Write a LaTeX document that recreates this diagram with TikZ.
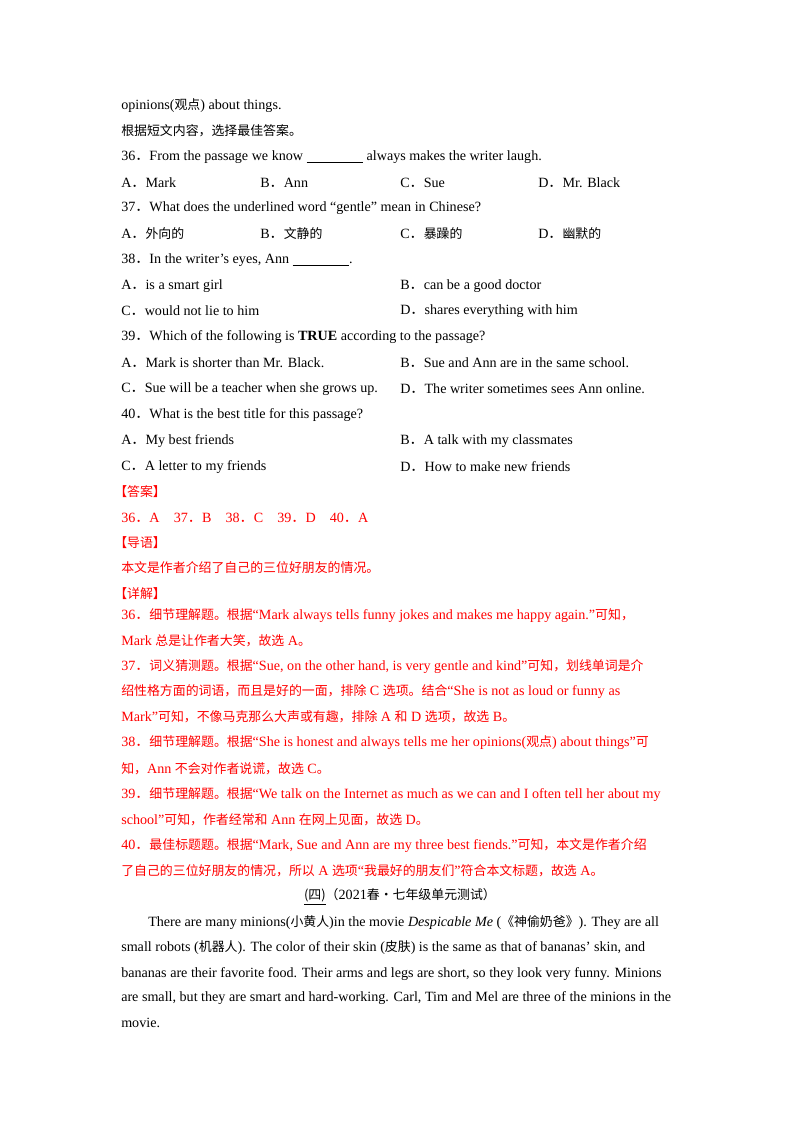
\documentclass[tikz,border=0pt]{standalone}
\usepackage{fontspec}
\setmainfont{Liberation Serif}
\newfontfamily\cjk{Noto Sans CJK SC}
\usepackage{xcolor}
\definecolor{ansred}{RGB}{255,0,0}
\newcommand{\zh}[1]{{\cjk\fontsize{9.6pt}{11pt}\selectfont #1}}
\newcommand{\fdot}{{\cjk ．}}
\tikzset{
  ln/.style={anchor=west, inner sep=0pt, font=\fontsize{10.5pt}{12pt}\selectfont},
  red ln/.style={ln, text=ansred},
}
\begin{document}
\begin{tikzpicture}[x=0.744pt, y=-0.744pt]
\useasboundingbox (0,0) rectangle (800,1132);
%
\node[ln] (l1) at (121,106) {opinions(\zh{观点}) about things.};
\node[ln] (l2) at (121,131) {\zh{根据短文内容，选择最佳答案。}};
\node[ln] (q36) at (121,157) {36\fdot From the passage we know \underline{\hspace{4em}} always makes the writer laugh.};
\node[ln] (a36) at (121,183) {A\fdot Mark};
\node[ln] (b36) at (260,183) {B\fdot Ann};
\node[ln] (c36) at (400,183) {C\fdot Sue};
\node[ln] (d36) at (538,183) {D\fdot Mr. Black};
%
\node[ln] (q37) at (121,208) {37\fdot What does the underlined word “gentle” mean in Chinese?};
\node[ln] (a37) at (121,234) {A\fdot \zh{外向的}};
\node[ln] (b37) at (260,234) {B\fdot \zh{文静的}};
\node[ln] (c37) at (400,234) {C\fdot \zh{暴躁的}};
\node[ln] (d37) at (538,234) {D\fdot \zh{幽默的}};
%
\node[ln] (q38) at (121,260) {38\fdot In the writer’s eyes, Ann \underline{\hspace{4em}}.};
\node[ln] (a38) at (121,286) {A\fdot is a smart girl};
\node[ln] (b38) at (400,286) {B\fdot can be a good doctor};
\node[ln] (c38) at (121,311) {C\fdot would not lie to him};
\node[ln] (d38) at (400,311) {D\fdot shares everything with him};
%
\node[ln] (q39) at (121,337) {39\fdot Which of the following is \textbf{TRUE} according to the passage?};
\node[ln] (a39) at (121,363) {A\fdot Mark is shorter than Mr. Black.};
\node[ln] (b39) at (400,363) {B\fdot Sue and Ann are in the same school.};
\node[ln] (c39) at (121,389) {C\fdot Sue will be a teacher when she grows up.};
\node[ln] (d39) at (400,389) {D\fdot The writer sometimes sees Ann online.};
%
\node[ln] (q40) at (121,415) {40\fdot What is the best title for this passage?};
\node[ln] (a40) at (121,441) {A\fdot My best friends};
\node[ln] (b40) at (400,441) {B\fdot A talk with my classmates};
\node[ln] (c40) at (121,467) {C\fdot A letter to my friends};
\node[ln] (d40) at (400,467) {D\fdot How to make new friends};
%
\node[red ln] (ans) at (114,492) {\zh{【答案】}};
\node[red ln] (ansv) at (121,518) {36\fdot A\quad 37\fdot B\quad 38\fdot C\quad 39\fdot D\quad 40\fdot A};
\node[red ln] (dy) at (114,543) {\zh{【导语】}};
\node[red ln] (dyv) at (121,568) {\zh{本文是作者介绍了自己的三位好朋友的情况。}};
\node[red ln] (xj) at (114,594) {\zh{【详解】}};
\node[red ln] (x1) at (121,616) {36\fdot\zh{细节理解题。根据}“Mark always tells funny jokes and makes me happy again.”\zh{可知，}};
\node[red ln] (x2) at (121,641) {Mark \zh{总是让作者大笑，故选} A\zh{。}};
\node[red ln] (x3) at (121,667) {37\fdot\zh{词义猜测题。根据}“Sue, on the other hand, is very gentle and kind”\zh{可知，划线单词是介}};
\node[red ln] (x4) at (121,692) {\zh{绍性格方面的词语，而且是好的一面，排除} C \zh{选项。结合}“She is not as loud or funny as};
\node[red ln] (x5) at (121,717) {Mark”\zh{可知，不像马克那么大声或有趣，排除} A \zh{和} D \zh{选项，故选} B\zh{。}};
\node[red ln] (x6) at (121,743) {38\fdot\zh{细节理解题。根据}“She is honest and always tells me her opinions(\zh{观点}) about things”\zh{可}};
\node[red ln] (x7) at (121,769) {\zh{知，}Ann \zh{不会对作者说谎，故选} C\zh{。}};
\node[red ln] (x8) at (121,795) {39\fdot\zh{细节理解题。根据}“We talk on the Internet as much as we can and I often tell her about my};
\node[red ln] (x9) at (121,820) {school”\zh{可知，作者经常和} Ann \zh{在网上见面，故选} D\zh{。}};
\node[red ln] (x10) at (121,846) {40\fdot\zh{最佳标题题。根据}“Mark, Sue and Ann are my three best fiends.”\zh{可知，本文是作者介绍}};
\node[red ln] (x11) at (121,871) {\zh{了自己的三位好朋友的情况，所以} A \zh{选项}“\zh{我最好的朋友们}”\zh{符合本文标题，故选} A\zh{。}};
%
\node[ln, anchor=center] (sec) at (400,897) {\underline{\zh{(四)}}\zh{（}2021\zh{春·七年级单元测试）}};
\node[ln] (p1) at (148,923) {There are many minions(\zh{小黄人})in the movie \textit{Despicable Me} (\zh{《神偷奶爸》}). They are all};
\node[ln] (p2) at (121,948) {small robots (\zh{机器人}). The color of their skin (\zh{皮肤}) is the same as that of bananas’ skin, and};
\node[ln] (p3) at (121,974) {bananas are their favorite food. Their arms and legs are short, so they look very funny. Minions};
\node[ln] (p4) at (121,998) {are small, but they are smart and hard-working. Carl, Tim and Mel are three of the minions in the};
\node[ln] (p5) at (121,1023) {movie.};
\end{tikzpicture}
\end{document}
